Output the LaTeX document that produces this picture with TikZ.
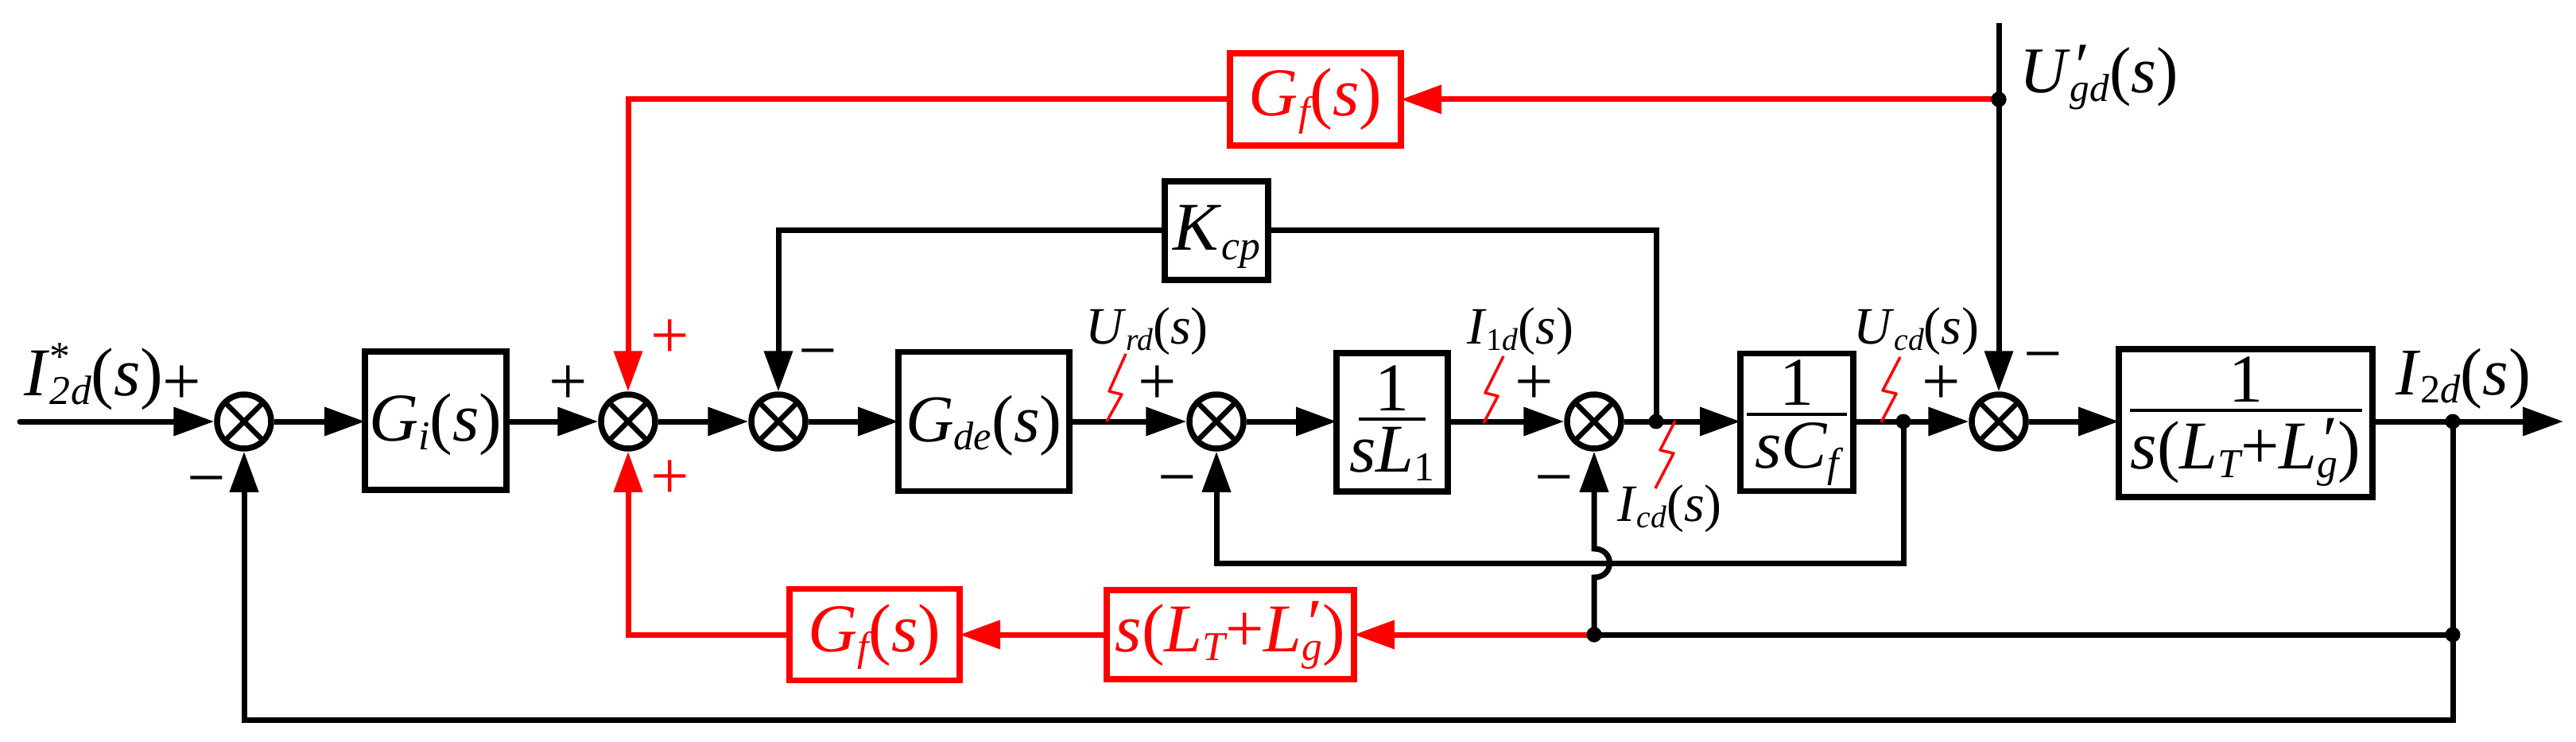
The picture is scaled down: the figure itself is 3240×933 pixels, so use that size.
\documentclass[tikz,border=0pt]{standalone}
\usepackage{fontspec}
\setmainfont{Liberation Serif}
\usetikzlibrary{arrows.meta}
\definecolor{pred}{RGB}{255,0,0}
% sizes
\newcommand\fA{\fontsize{86}{90}\selectfont}
\newcommand\fB{\fontsize{84}{90}\selectfont}
\newcommand\fC{\fontsize{66}{70}\selectfont}
% italic letter, subscript, subscript with superscript
\newcommand\ii[1]{\textit{#1}}
\newcommand\sbs[1]{\raisebox{-.13em}{\scalebox{.6}{\itshape #1}}}
\newcommand\sbsup[2]{\makebox[0pt][l]{\raisebox{.37em}{\scalebox{.6}{#2}}}\sbs{#1}}
\newcommand\prm{\makebox[0pt][l]{\kern.02em\raisebox{.08em}{\ii{′}}}}
\newcommand\ofs{(\ii{s})}
% zero-size centred piece, raised by #1 (pt) from the node centre
\newcommand\ctr[2]{\makebox[0pt]{\raisebox{#1pt}[0pt][0pt]{#2}}}
% numerator raise, denominator raise, rule raise, rule width, denominator
\newcommand\fracbox[5]{\ctr{#1}{1}\ctr{#3}{\rule{#4pt}{4pt}}\ctr{#2}{#5}}
\newcommand\LTLg{\ii{L}\sbs{T}+\ii{L}\prm\sbs{g}}
\tikzset{
  blk/.style={draw=black,line width=7.5pt,fill=none,inner sep=0pt,outer sep=0pt,rectangle,font=\fA},
  rblk/.style={blk,draw=pred,text=pred},
  sumc/.style={circle,draw=black,line width=7.5pt,minimum size=68pt,inner sep=0pt,
    path picture={\draw[line width=6.5pt,black]
      (path picture bounding box.north west)--(path picture bounding box.south east)
      (path picture bounding box.north east)--(path picture bounding box.south west);}},
  wire/.style={draw=black,line width=7pt,line join=miter},
  rwire/.style={draw=pred,line width=7pt,line join=miter},
  tipped/.style={-{Triangle[length=51pt,width=35pt]}},
  dotj/.style={circle,fill=black,minimum size=19pt,inner sep=0pt},
  sgn/.style={inner sep=0pt,font=\fA,anchor=base,yshift=-22pt},
  rsgn/.style={sgn,text=pred},
  lbl/.style={inner sep=0pt,anchor=base west},
  bolt/.style={draw=pred,line width=3.5pt,line join=round},
}
\begin{document}
\begin{tikzpicture}[x=1pt,y=-1pt]
\useasboundingbox[fill=white] (0,0) rectangle (3240,933);
% summing junctions
\node[sumc] (c1) at (307,530) {};
\node[sumc] (c2) at (790,530) {};
\node[sumc] (c3) at (979,530) {};
\node[sumc] (c4) at (1530,530) {};
\node[sumc] (c5) at (2005,530) {};
\node[sumc] (c6) at (2514,530) {};
% blocks
\node[blk,minimum width=178pt,minimum height=174pt] (gi) at (548,529) {\ctr{-25}{\ii{G}\sbs{i}\ofs}};
\node[blk,minimum width=215pt,minimum height=175pt] (gde) at (1237.5,530) {\ctr{-25}{\fB\ii{G}\sbs{de}\ofs}};
\node[blk,minimum width=140pt,minimum height=174pt] (sl) at (1751,531) {\fracbox{15}{-62}{2}{84}{\ii{sL}\sbs{\upshape 1}}};
\node[blk,minimum width=142pt,minimum height=173pt] (sc) at (2260,531) {\fracbox{22}{-57}{8}{126}{\ii{sC}\sbs{f}}};
\node[blk,minimum width=319pt,minimum height=186pt] (pl) at (2824.5,532) {\fracbox{27}{-57}{14.5}{292}{\ii{s}(\LTLg)}};
\node[blk,minimum width=130pt,minimum height=124pt] (kc) at (1530,290) {\ctr{-25}{\ii{K}\sbs{cp}}};
\node[rblk,minimum width=215pt,minimum height=116pt] (gf1) at (1654.5,125) {\ctr{-21}{\ii{G}\sbs{f}\ofs}};
\node[rblk,minimum width=214pt,minimum height=115pt] (gf2) at (1100,798) {\ctr{-21}{\ii{G}\sbs{f}\ofs}};
\node[rblk,minimum width=311pt,minimum height=112pt] (sg) at (1547.5,798) {\ctr{-21}{\ii{s}(\LTLg)}};
% junctions and free ends
\node[dotj] (jk) at (2083,530) {};
\node[dotj] (ju) at (2394,530) {};
\node[dotj] (jo) at (3085,530) {};
\node[dotj] (jm) at (3085,798) {};
\node[dotj] (jl) at (2005,798) {};
\node[dotj] (jr) at (2514,125) {};
\coordinate (in) at (25,530);
\coordinate (out) at (3224,530);
\coordinate (utop) at (2514,29);
\coordinate (ja) at (2005,726);
\coordinate (jb) at (2005,690);
\coordinate (bc) at (3085,905);
\coordinate (uc) at (2394,708);
% forward path
\draw[wire,tipped,line cap=round] (in) -- (c1.west);
\draw[wire,tipped] (c1) -- (c1 -| gi.west);
\draw[wire,tipped] (gi.east |- c2) -- (c2.west);
\draw[wire,tipped] (c2.east) -- (c3.west);
\draw[wire,tipped] (c3.east) -- (c3 -| gde.west);
\draw[wire,tipped] (gde.east |- c4) -- (c4.west);
\draw[wire,tipped] (c4.east) -- (c4 -| sl.west);
\draw[wire,tipped] (sl.east |- c5) -- (c5.west);
\draw[wire,tipped] (c5.east) -- (c5 -| sc.west);
\draw[wire,tipped] (sc.east |- c6) -- (c6.west);
\draw[wire,tipped] (c6.east) -- (c6 -| pl.west);
\draw[wire,tipped] (pl.east |- jo) -- (out);
% Kcp path
\draw[wire,tipped] (kc.west) -| (c3.north);
\draw[wire] (jk.center) |- (kc.east);
% grid voltage
\draw[wire,tipped] (utop) -- (c6.north);
% feedback paths
\draw[wire,tipped] (ju.center) -- (uc) -| (c4.south);
\draw[wire] (jl.center) -- (jm.center);
\draw[wire,tipped] (jl.center) -- (ja) .. controls (2031,726) and (2031,690) .. (jb) -- (c5.south);
\draw[wire,tipped] (jo.center) -- (bc) -| (c1.south);
% red paths
\draw[rwire,tipped] (jr.center) -- (gf1.east);
\draw[rwire,tipped] (gf1.west) -| (c2.north);
\draw[rwire,tipped] (jl.center) -- (sg.east);
\draw[rwire,tipped] (sg.west) -- (gf2.east);
\draw[rwire,tipped] (gf2.west) -| (c2.south);
\fill[black] (jl) circle[radius=9.5pt] (jr) circle[radius=9.5pt];
% signs
\node[sgn] (p1) at (229,486) {+};
\node[sgn] (m1) at (260,607) {−};
\node[sgn] (p2) at (715,486) {+};
\node[rsgn] (p3) at (843,428) {+};
\node[rsgn] (p4) at (843,605) {+};
\node[sgn] (m3) at (1029,447) {−};
\node[sgn] (p5) at (1456,486) {+};
\node[sgn] (m4) at (1481,606) {−};
\node[sgn] (p6) at (1930,486) {+};
\node[sgn] (m5) at (1955,606) {−};
\node[sgn] (p7) at (2442,486) {+};
\node[sgn] (m6) at (2570,451) {−};
% signal labels
\node[lbl,font=\fA] (t1) at (30,497) {\ii{I}\sbsup{2\kern.02em d}{*}\ofs};
\node[lbl,font=\fC] (t2) at (1365,432) {\ii{U}\sbs{rd}\ofs};
\node[lbl,font=\fC] (t3) at (1845,432) {\ii{I}\sbs{\upshape 1\itshape d}\ofs};
\node[lbl,font=\fC] (t4) at (2331,432) {\ii{U}\sbs{cd}\ofs};
\node[lbl,font=\fC] (t5) at (2034,655) {\ii{I}\sbs{cd}\ofs};
\node[lbl,font=\fontsize{82}{86}\selectfont] (t6) at (2540,117) {\ii{U}\prm\sbs{gd}\ofs};
\node[lbl,font=\fB] (t7) at (3013,496) {\ii{I}\sbs{\upshape 2\itshape d}\ofs};
% measurement bolts
\draw[bolt] (1416,445) -- (1395,492) -- (1411,496) -- (1392,530);
\draw[bolt] (1891,448) -- (1868,494) -- (1884,498) -- (1866,532);
\draw[bolt] (2107,529) -- (2088,566) -- (2105,570) -- (2082,614);
\draw[bolt] (2390,449) -- (2368,491) -- (2385,495) -- (2366,531);
\end{tikzpicture}
\end{document}
